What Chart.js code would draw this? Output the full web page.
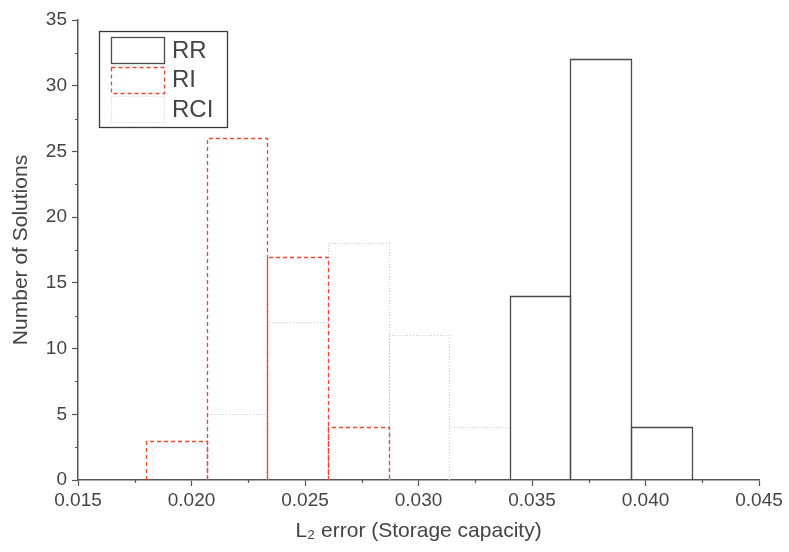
<!DOCTYPE html>
<html>
<head>
<meta charset="utf-8">
<script src="https://cdn.jsdelivr.net/npm/chart.js@4"></script>
<style>
  html, body { margin: 0; padding: 0; background: #fff; }
  #wrap { width: 789px; height: 552px; }
</style>
</head>
<body>
<div id="wrap"><canvas id="hist" width="789" height="552"></canvas></div>
<script>
// Bin centres (L2 error) and counts per method
const binCenters = [0.01934, 0.02201, 0.02468, 0.02735, 0.03002, 0.03269, 0.03536, 0.03803, 0.04070];
const rrCounts  = [0, 0, 0, 0, 0, 0, 14, 32, 4];
const riCounts  = [3, 26, 17, 4, 0, 0, 0, 0, 0];
const rciCounts = [0, 5, 12, 18, 11, 4, 0, 0, 0];

const xTicks = [0.015, 0.020, 0.025, 0.030, 0.035, 0.040, 0.045];
const yTicks = [0, 5, 10, 15, 20, 25, 30, 35];

const FONT = "'Liberation Sans', Arial, sans-serif";
const AXIS = "#555";
const TEXT = "#444";
const NONE = "rgba(0,0,0,0)";

function toPoints(counts) {
  return binCenters.map((c, i) => ({ x: c, y: counts[i] }));
}

// bars are drawn as outlines (dashed/dotted) by this plugin
const outlinePlugin = {
  id: "outline",
  afterDatasetsDraw(chart) {
    const ctx = chart.ctx;
    chart.data.datasets.forEach((ds, i) => {
      const meta = chart.getDatasetMeta(i);
      ctx.save();
      ctx.strokeStyle = ds.outlineColor;
      ctx.lineWidth = ds.outlineWidth;
      ctx.setLineDash(ds.outlineDash);
      meta.data.forEach((bar, j) => {
        if (!ds.data[j].y) return;
        const p = bar.getProps(["x", "y", "base", "width"], true);
        const l = Math.round(p.x - p.width / 2) + 0.5;
        const r = Math.round(p.x + p.width / 2) + 0.5;
        const t = Math.round(p.y) + 0.5;
        const b = Math.round(p.base);
        ctx.beginPath();
        ctx.moveTo(l, b);
        ctx.lineTo(l, t);
        ctx.lineTo(r, t);
        ctx.lineTo(r, b);
        ctx.stroke();
      });
      ctx.restore();
    });
  },
  afterDraw(chart) {
    const ctx = chart.ctx;
    const xs = chart.scales.x, ys = chart.scales.y;
    const area = chart.chartArea;
    // minor ticks
    ctx.save();
    ctx.strokeStyle = AXIS;
    ctx.lineWidth = 1.2;
    ctx.beginPath();
    for (let i = 0; i < xTicks.length - 1; i++) {
      const px = Math.round(xs.getPixelForValue((xTicks[i] + xTicks[i + 1]) / 2)) + 0.5;
      ctx.moveTo(px, area.bottom);
      ctx.lineTo(px, area.bottom + 3);
    }
    for (let i = 0; i < yTicks.length - 1; i++) {
      const py = Math.round(ys.getPixelForValue((yTicks[i] + yTicks[i + 1]) / 2)) + 0.5;
      ctx.moveTo(area.left, py);
      ctx.lineTo(area.left - 3, py);
    }
    ctx.stroke();
    ctx.restore();

    // legend
    const lx = area.left + 21, ly = area.top + 11;
    ctx.save();
    ctx.strokeStyle = "#3a3a3a";
    ctx.lineWidth = 1.3;
    ctx.strokeRect(lx + 0.5, ly + 0.5, 128, 96);
    ctx.font = "24px " + FONT;
    ctx.textBaseline = "middle";
    ctx.fillStyle = TEXT;
    chart.data.datasets.slice().reverse().forEach((ds, k) => {
      const by = ly + 6 + k * 29.7;
      ctx.save();
      ctx.strokeStyle = ds.outlineColor;
      ctx.lineWidth = ds.outlineWidth;
      ctx.setLineDash(ds.outlineDash);
      ctx.strokeRect(lx + 12.5, Math.round(by) + 0.5, 53, 26);
      ctx.restore();
      ctx.fillText(ds.label, lx + 73, by + 14);
    });
    ctx.restore();
  }
};

const barStyle = { backgroundColor: NONE, borderColor: NONE, borderWidth: 0,
                   barPercentage: 1, categoryPercentage: 1, grouped: false };

new Chart(document.getElementById("hist"), {
  type: "bar",
  data: {
    datasets: [
      Object.assign({ label: "RCI", data: toPoints(rciCounts), outlineColor: "#c9c9e8", outlineWidth: 1.2, outlineDash: [1, 2] }, barStyle),
      Object.assign({ label: "RI", data: toPoints(riCounts), outlineColor: "#f2442f", outlineWidth: 1.3, outlineDash: [4, 3] }, barStyle),
      Object.assign({ label: "RR", data: toPoints(rrCounts), outlineColor: "#4a4a4a", outlineWidth: 1.3, outlineDash: [] }, barStyle)
    ]
  },
  options: {
    responsive: false,
    animation: false,
    layout: { padding: { top: 20, right: 30, left: 0, bottom: 0 } },
    plugins: { legend: { display: false }, tooltip: { enabled: false }, colors: { enabled: false } },
    scales: {
      x: {
        type: "linear",
        offset: false,
        min: 0.015,
        max: 0.045,
        afterBuildTicks: s => { s.ticks = xTicks.map(v => ({ value: v })); },
        afterFit: s => { s.height = 72; },
        grid: { offset: false, drawOnChartArea: false, drawTicks: true, tickLength: 6, tickColor: AXIS, tickWidth: 1.2 },
        border: { color: AXIS, width: 1.5 },
        ticks: { color: TEXT, font: { family: FONT, size: 19 }, padding: 3, maxRotation: 0,
                 callback: v => Number(v).toFixed(3) },
        title: { display: true, text: "L\u2082 error (Storage capacity)", color: TEXT,
                 font: { family: FONT, size: 21 }, padding: { top: 0, bottom: 8 } }
      },
      y: {
        min: 0,
        max: 35,
        afterBuildTicks: s => { s.ticks = yTicks.map(v => ({ value: v })); },
        afterFit: s => { s.width = 78; },
        grid: { drawOnChartArea: false, drawTicks: true, tickLength: 6, tickColor: AXIS, tickWidth: 1.2 },
        border: { color: AXIS, width: 1.5 },
        ticks: { color: TEXT, font: { family: FONT, size: 19 }, padding: 5 },
        title: { display: true, text: "Number of Solutions", color: TEXT,
                 font: { family: FONT, size: 21 }, padding: { top: 9, bottom: 0 } }
      }
    }
  },
  plugins: [outlinePlugin]
});
</script>
</body>
</html>
